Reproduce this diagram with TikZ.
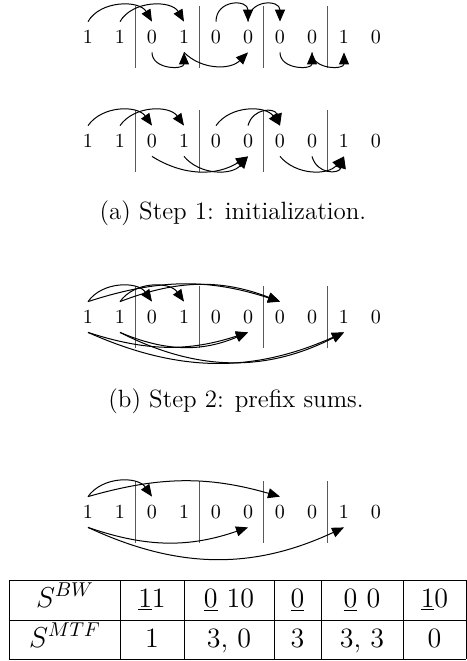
\documentclass[tikz,border=0pt]{standalone}
\usepackage{tikz}
\usetikzlibrary{arrows.meta}

\begin{document}
\begin{tikzpicture}[x=0.5pt, y=0.5pt, >={Triangle[length=6pt,width=5pt]},
    dig/.style={inner sep=0pt, minimum width=10pt, minimum height=15pt, font=\fontsize{10}{12}\selectfont},
    sep/.style={black!65, line width=0.5pt},
    arc/.style={->, line width=0.5pt},
    captxt/.style={anchor=base, font=\fontsize{12.5}{15}\selectfont},
    tab/.style={anchor=base, font=\fontsize{14}{17}\selectfont}]
    \useasboundingbox (0,0) rectangle (467,-661);
    \foreach \r/\y in {a/37,b/141,c/317,d/512}{
        \foreach \d [count=\i] in {1,1,0,1,0,0,0,0,1,0}
            \node[dig] (\r\i) at ({56+32*\i},-\y) {\d};
        \foreach \x in {136,200,264,328}
            \draw[sep] (\x,-\y+31) -- (\x,-\y-31);
    }
    \draw[arc] (a1.north) to[bend left=60] (a3.north);
    \draw[arc] (a2.north) to[bend left=60] (a4.north);
    \draw[arc] (a5.north) to[out=90, in=90, looseness=1.8] (a6.north);
    \draw[arc] (a6.north) to[out=90, in=90, looseness=1.8] (a7.north);
    \draw[arc] (a3.south) to[out=-90, in=-90, looseness=1.4] (a4.south);
    \draw[arc] (a4.south) to[bend right=45] (a6.south);
    \draw[arc] (a7.south) to[out=-90, in=-90, looseness=1.4] (a8.south);
    \draw[arc] (a8.south) to[out=-90, in=-90, looseness=1.4] (a9.south);
    \draw[arc] (b1.north) to[bend left=55] (b3.north);
    \draw[arc] (b2.north) to[bend left=55] (b4.north);
    \draw[arc] (b5.north) to[bend left=55] (b7.north);
    \draw[arc] (b6.north) to[bend left=75, looseness=1.5] (b7.north);
    \draw[arc] (b3.south) to[bend right=32] (b6.south);
    \draw[arc] (b4.south) to[bend right=50] (b6.south);
    \draw[arc] (b7.south) to[bend right=50] (b9.south);
    \draw[arc] (b8.south) to[bend right=75, looseness=1.5] (b9.south);
    \node[captxt] (capa) at (233,-219) {(a) Step 1: initialization.};
    \draw[arc] (c1.north) to[bend left=55] (c3.north);
    \draw[arc] (c2.north) to[bend left=55] (c4.north);
    \draw[arc] (c1.north) to[bend left=18] (c7.north);
    \draw[arc] (c2.north) to[bend left=21] (c7.north);
    \draw[arc] (c1.south) to[bend right=18] (c6.south);
    \draw[arc] (c2.south) to[bend right=23] (c6.south);
    \draw[arc] (c1.south) to[bend right=24] (c9.south);
    \draw[arc] (c2.south) to[bend right=27] (c9.south);
    \node[captxt] (capb) at (236,-407) {(b) Step 2: prefix sums.};
    \draw[arc] (d1.north) to[bend left=55] (d3.north);
    \draw[arc] (d1.north) to[bend left=16] (d7.north);
    \draw[arc] (d1.south) to[bend right=19] (d6.south);
    \draw[arc] (d1.south) to[bend right=25] (d9.south);
    \foreach \x in {9,120,184,274,321,403,466}
        \draw (\x,-580) -- (\x,-659);
    \foreach \y in {580,620,659}
        \draw (9,-\y) -- (466,-\y);
    \node[tab] (bw0) at (65,-607) {$S^{BW}$};
    \node[tab] (bw1) at (152,-607) {\underline{1}1};
    \node[tab] (bw2) at (229,-607) {\underline{0} 10};
    \node[tab] (bw3) at (297.5,-607) {\underline{0}};
    \node[tab] (bw4) at (362,-607) {\underline{0} 0};
    \node[tab] (bw5) at (434.5,-607) {\underline{1}0};
    \node[tab] (mtf0) at (65,-647) {$S^{MTF}$};
    \node[tab] (mtf1) at (152,-647) {1};
    \node[tab] (mtf2) at (229,-647) {3, 0};
    \node[tab] (mtf3) at (297.5,-647) {3};
    \node[tab] (mtf4) at (362,-647) {3, 3};
    \node[tab] (mtf5) at (434.5,-647) {0};
\end{tikzpicture}
\end{document}
